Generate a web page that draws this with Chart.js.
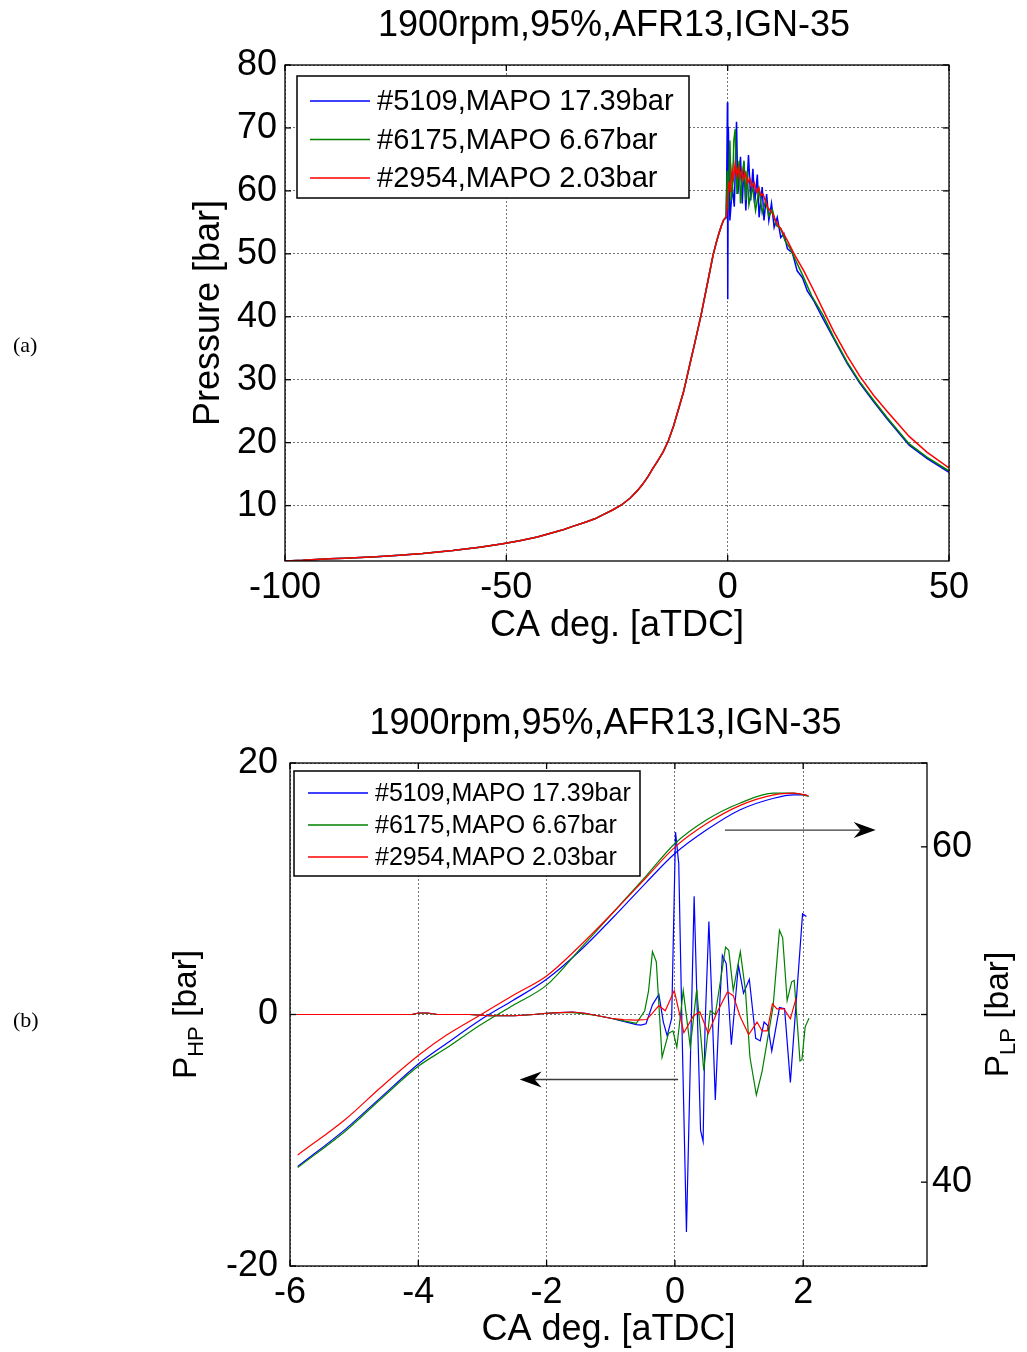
<!DOCTYPE html>
<html>
<head>
<meta charset="utf-8">
<script src="https://cdn.jsdelivr.net/npm/chart.js@4.4.1/dist/chart.umd.min.js"></script>
<style>
   html, body { margin: 0; padding: 0; background: #fff; }
   #page { position: relative; width: 1027px; height: 1352px; background: #fff; overflow: hidden; }
   #chartTop { position: absolute; left: 0; top: 0; }
   #chartBot { position: absolute; left: 0; top: 670px; }
   .tag { position: absolute; left: 13px; font-family: 'Liberation Serif', 'Times New Roman', serif; font-size: 22px; color: #000; }
</style>
</head>
<body>
<div id="page">
   <canvas id="chartTop" width="1027" height="670"></canvas>
   <canvas id="chartBot" width="1027" height="682"></canvas>
   <div class="tag" style="top:332px">(a)</div>
   <div class="tag" style="top:1007px">(b)</div>
</div>
<script>
/* -----------------------------------------------------------------------
   공통 데이터
   ------------------------------------------------------------------------*/
const chartTitle = '1900rpm,95%,AFR13,IGN-35';
const seriesNames = ['#5109,MAPO 17.39bar', '#6175,MAPO 6.67bar', '#2954,MAPO 2.03bar'];
const seriesColors = ['#0000ff', '#008000', '#ff0000'];

/* -----------------------------------------------------------------------
   (a) 압력 선도
   ------------------------------------------------------------------------*/
const topXTicks = [-100, -50, 0, 50];
const topYTicks = [10, 20, 30, 40, 50, 60, 70, 80];

// 압축 구간 (세 사이클 동일)
const caComp = [-100, -96, -90, -86.5, -79.4, -74.2, -68.9, -62.1, -56, -50.8,
   -47, -43, -40, -37, -35, -32, -30, -28, -26, -24,
   -22, -20.5, -19.3, -18, -17, -15.8, -14.6, -13.4, -12.2, -11,
   -10, -9.2, -8.4, -7.6, -6.8, -6, -5, -4.2, -3.3, -2.6,
   -2, -1.4, -0.9];
const pComp = [1.2, 1.3, 1.55, 1.65, 1.87, 2.13, 2.4, 2.87, 3.4, 3.93,
   4.4, 5.0, 5.6, 6.2, 6.7, 7.4, 7.9, 8.6, 9.3, 10.1,
   11.2, 12.3, 13.3, 14.6, 15.8, 17.1, 18.5, 20.3, 22.7, 25.6,
   28, 30.4, 32.9, 35.3, 37.8, 40.3, 43.8, 46.6, 49.8, 51.7,
   53.2, 54.5, 55.4];

// 연소 구간
const caBlueA = [-0.3, -0.05, 0.02, 0.15, 0.5, 1.05, 1.5, 2.0, 2.3, 2.9,
   3.3, 3.7, 4.1, 4.7, 5.2, 5.7, 6.1, 6.7, 7.1, 7.8,
   8.2, 8.8, 9.3, 9.9, 10.5, 11.2, 12, 12.7, 13.5, 14.6,
   15.7, 16.9, 18, 19.5, 21, 24, 27, 29.8, 33, 36,
   41, 45, 50];
const pBlueA = [55.8, 74.1, 42.8, 70.2, 55.3, 60.6, 57.5, 71, 59.5, 65.4,
   58, 64.3, 56.9, 65.7, 58.5, 63.5, 58, 62.6, 55.8, 60.6,
   55.3, 59.5, 55.3, 58, 54.2, 55.8, 52.6, 53.2, 50.8, 50.2,
   47.3, 46.2, 44.1, 42.5, 40.4, 36.5, 32.6, 29.5, 26.5, 23.8,
   19.6, 17.5, 15.3];

const caGreenA = [-0.4, -0.1, 0.1, 0.5, 0.8, 1.1, 1.4, 1.7, 2.1, 2.6,
   2.9, 3.3, 3.7, 4.1, 4.4, 4.8, 5.6, 6.3, 7.1, 7.8,
   8.6, 9.3, 10.1, 11, 12, 13, 14, 15, 17, 19,
   21.5, 24, 27, 29.8, 33, 36, 41, 45, 50];
const pGreenA = [55.7, 63.2, 57, 68, 58.5, 60.5, 68, 69.8, 59.5, 64.8,
   58, 62.5, 64.8, 58.5, 63.2, 57.8, 60.6, 56.9, 60.2, 56.5,
   58.5, 56, 57, 54.5, 54, 52, 51, 49.5, 46.5, 43.3,
   40.3, 36.7, 32.8, 29.7, 26.7, 24, 19.8, 17.7, 15.5];

const caRedA = [-0.3, 0.3, 0.6, 1.0, 1.3, 1.7, 2.0, 2.4, 2.8, 3.2,
   3.6, 4.0, 4.5, 5.0, 5.5, 6.0, 6.5, 7.0, 7.5, 8.0,
   9.0, 10, 11.2, 12, 13.5, 15, 17.2, 19.5, 21.7, 24,
   27, 29.8, 33, 36, 41, 45, 50];
const pRedA = [56.0, 61.5, 59.8, 63.5, 62, 64.2, 62.5, 63.8, 62, 63.4,
   61.8, 62.8, 61.2, 62, 60.6, 61.3, 59.8, 60.5, 59.3, 59.5,
   57.4, 56.6, 54.7, 54, 52.1, 50, 47.3, 44.1, 40.9, 37.6,
   33.8, 30.6, 27.5, 25, 21, 18.5, 16];

/* -----------------------------------------------------------------------
   (b) 고역/저역 필터 압력
   ------------------------------------------------------------------------*/
const botXTicks = [-6, -4, -2, 0, 2];
const botHPTicks = [-20, 0, 20];
const botLPTicks = [40, 60];

const caBlueHP = [-5.9, -4.1, -4.0, -3.85, -3.7, -3.2, -2.9, -2.5, -2.2, -2.0,
   -1.8, -1.6, -1.4, -1.2, -1.0, -0.8, -0.6, -0.53, -0.45, -0.35,
   -0.25, -0.18, -0.12, -0.05, 0.01, 0.06, 0.11, 0.18, 0.30, 0.34,
   0.40, 0.44, 0.47, 0.53, 0.57, 0.63, 0.68, 0.74, 0.80, 0.88,
   0.99, 1.07, 1.16, 1.26, 1.33, 1.39, 1.45, 1.51, 1.63, 1.71,
   1.80, 1.99, 2.05];
const pBlueHP = [0, 0, 0.12, 0.12, 0, 0, -0.1, -0.1, 0, 0.1,
   0.15, 0.2, 0.1, -0.1, -0.3, -0.55, -0.8, -0.85, -0.74, 0.77,
   1.6, -0.6, -1.7, -0.3, 14.5, 12.0, -0.9, -17.3, 9.4, 1.9,
   -9.2, -10.1, -0.9, 7.4, 1.9, -6.8, -0.9, 4.7, 4.05, -2.4,
   3.9, 1.7, 2.8, -1.9, -2.1, -0.6, -0.9, -2.9, 0.55, 0.45,
   -5.4, 8.0, 7.8];

const caGreenHP = [-5.9, -4.1, -4.0, -3.85, -3.7, -3.2, -2.9, -2.5, -2.2, -2.0,
   -1.8, -1.6, -1.4, -1.2, -1.0, -0.8, -0.6, -0.47, -0.41, -0.35,
   -0.29, -0.2, -0.1, -0.03, 0.03, 0.13, 0.24, 0.34, 0.45, 0.55,
   0.63, 0.79, 0.84, 0.91, 1.02, 1.1, 1.17, 1.27, 1.36, 1.44,
   1.53, 1.63, 1.68, 1.75, 1.82, 1.86, 1.95, 1.98, 2.03, 2.09];
const pGreenHP = [0, 0, 0.1, 0.1, 0, 0, -0.1, -0.1, 0, 0.1,
   0.15, 0.15, 0.05, -0.1, -0.3, -0.5, -0.7, 0.3, 1.9, 5.0,
   4.2, -3.4, -1.5, -1.3, -2.6, 1.9, -2.6, 2.0, -4.45, 0.3,
   0, 5.35, 5.1, 1.9, 5.0, 1.9, -3.4, -6.4, -4.5, -2.1,
   0.6, 6.7, 6.1, 1.1, 2.6, 2.7, -3.7, -3.6, -1.0, -0.3];

const caRedHP = [-5.9, -4.1, -4.0, -3.85, -3.7, -3.2, -2.9, -2.5, -2.2, -2.0,
   -1.8, -1.6, -1.4, -1.2, -1.0, -0.8, -0.6, -0.44, -0.36, -0.25,
   -0.15, -0.01, 0.14, 0.29, 0.39, 0.52, 0.65, 0.82, 0.91, 1.02,
   1.15, 1.28, 1.36, 1.44, 1.52, 1.59, 1.7, 1.8, 1.89];
const pRedHP = [0, 0, 0.12, 0.12, 0, 0, -0.1, -0.1, 0, 0.1,
   0.15, 0.2, 0.1, -0.1, -0.3, -0.4, -0.45, -0.4, 0.05, 0.7,
   0.3, 1.9, -1.45, -0.1, 0.2, -1.5, 0.1, 1.8, 1.5, -0.2,
   -1.6, -0.6, -1.3, -1.3, 0.85, 0.45, 0.45, -0.35, 1.3];

const caBlueLP = [-5.88, -5.12, -4.6, -3.99, -3.56, -3.04, -2.52, -2.0, -1.48, -0.96, -0.44, 0, 0.49, 1.01, 1.54, 1.85, 2.05];
const pBlueLP = [40.93, 43.21, 45.0, 47.08, 48.27, 49.66, 50.85, 52.1, 53.8, 55.8, 57.9, 59.6, 61.0, 62.2, 62.9, 63.1, 63.1];
const caGreenLP = [-5.88, -5.12, -4.6, -3.99, -3.56, -3.04, -2.52, -2.0, -1.48, -0.96, -0.44, 0, 0.49, 1.01, 1.54, 1.85, 2.09];
const pGreenLP = [40.87, 43.1, 44.9, 46.94, 48.0, 49.36, 50.55, 51.75, 53.9, 56.1, 58.3, 60.2, 61.6, 62.6, 63.2, 63.2, 63.0];
const caRedLP = [-5.88, -5.12, -4.6, -3.99, -3.56, -3.04, -2.52, -2.0, -1.48, -0.96, -0.44, 0, 0.49, 1.01, 1.54, 1.85, 2.08];
const pRedLP = [41.62, 43.8, 45.6, 47.58, 48.77, 49.96, 51.15, 52.3, 54.1, 56.1, 58.2, 59.98, 61.37, 62.46, 63.1, 63.2, 63.05];

// 화살표 (축 값 기준)
const arrowLP = {ca: [0.78, 3.13], p: 61.0};
const arrowHP = {ca: [0.05, -2.42], p: -5.17};

/* -----------------------------------------------------------------------
   helpers
   ------------------------------------------------------------------------*/
const FONT = "'Liberation Sans', Arial, Helvetica, sans-serif";
Chart.defaults.font.family = FONT;
Chart.defaults.font.size = 36;
Chart.defaults.color = '#000';

function toXY(xs, ys) {
   return xs.map(function(x, i) {
      return {x: x, y: ys[i]};
   });
}

function fixedTicks(list) {
   return function(scale) {
      scale.ticks = list.map(function(v) { return {value: v}; });
   };
}

function lineSet(idx, xs, ys, axisId, width, smooth) {
   return {
      label: seriesNames[idx],
      data: toXY(xs, ys),
      yAxisID: axisId,
      borderColor: seriesColors[idx],
      backgroundColor: seriesColors[idx],
      borderWidth: width,
      pointRadius: 0,
      tension: 0,
      cubicInterpolationMode: smooth ? 'monotone' : 'default',
      order: 3 - idx,
   };
}

const gridStyle = {color: 'rgba(0,0,0,0.55)', lineWidth: 1, drawTicks: false};
const borderStyle = {display: false, dash: [2, 2]};

/* -----------------------------------------------------------------------
   MATLAB 스타일 박스, 범례, 제목, 화살표
   ------------------------------------------------------------------------*/
const matlabBox = {
   id: 'matlabBox',
   afterDatasetsDraw: function(chart, args, opts) {
      const ctx = chart.ctx;
      const area = chart.chartArea;
      ctx.save();

      // arrows
      (opts.arrows || []).forEach(function(ar) {
         const sx = chart.scales.x;
         const sy = chart.scales[ar.axis];
         const x0 = sx.getPixelForValue(ar.ca[0]);
         const x1 = sx.getPixelForValue(ar.ca[1]);
         const y = sy.getPixelForValue(ar.p);
         const dir = x1 > x0 ? 1 : -1;
         ctx.strokeStyle = '#3a3a3a';
         ctx.lineWidth = 1.3;
         ctx.beginPath();
         ctx.moveTo(x0, y);
         ctx.lineTo(x1 - dir * 12, y);
         ctx.stroke();
         ctx.fillStyle = '#000';
         ctx.beginPath();
         ctx.moveTo(x1, y);
         ctx.lineTo(x1 - dir * 22, y - 8);
         ctx.lineTo(x1 - dir * 15, y);
         ctx.lineTo(x1 - dir * 22, y + 8);
         ctx.closePath();
         ctx.fill();
      });

      // axes box
      ctx.strokeStyle = '#000';
      ctx.lineWidth = 1.3;
      ctx.strokeRect(area.left, area.top, area.right - area.left, area.bottom - area.top);

      // inward ticks
      (opts.tickSides || []).forEach(function(t) {
         const sc = chart.scales[t.axis];
         sc.ticks.forEach(function(tk) {
            const p = sc.getPixelForValue(tk.value);
            t.sides.forEach(function(side) {
               ctx.beginPath();
               if (side === 'bottom') { ctx.moveTo(p, area.bottom); ctx.lineTo(p, area.bottom - 6); }
               if (side === 'top') { ctx.moveTo(p, area.top); ctx.lineTo(p, area.top + 6); }
               if (side === 'left') { ctx.moveTo(area.left, p); ctx.lineTo(area.left + 6, p); }
               if (side === 'right') { ctx.moveTo(area.right, p); ctx.lineTo(area.right - 6, p); }
               ctx.stroke();
            });
         });
      });

      // legend
      const lg = opts.legend;
      if (lg) {
         const bx = area.left + lg.dx;
         const by = area.top + lg.dy;
         ctx.fillStyle = '#fff';
         ctx.fillRect(bx, by, lg.w, lg.h);
         ctx.strokeStyle = '#000';
         ctx.lineWidth = 1.5;
         ctx.strokeRect(bx, by, lg.w, lg.h);
         ctx.font = lg.size + 'px ' + FONT;
         ctx.textAlign = 'left';
         ctx.textBaseline = 'middle';
         seriesNames.forEach(function(name, i) {
            const y = by + lg.row0 + i * lg.gap;
            ctx.strokeStyle = seriesColors[i];
            ctx.lineWidth = 1.3;
            ctx.beginPath();
            ctx.moveTo(bx + lg.line[0], y);
            ctx.lineTo(bx + lg.line[1], y);
            ctx.stroke();
            ctx.fillStyle = '#000';
            ctx.fillText(name, bx + lg.textX, y + 1);
         });
      }
      ctx.restore();
   },
   afterDraw: function(chart, args, opts) {
      const ctx = chart.ctx;
      const area = chart.chartArea;
      ctx.save();
      ctx.fillStyle = '#000';
      ctx.font = '36px ' + FONT;
      ctx.textAlign = 'center';
      ctx.textBaseline = 'middle';
      ctx.fillText(opts.title, (area.left + area.right) / 2 - 3, area.top - 39);

      // 아래첨자 축 제목
      (opts.sideLabels || []).forEach(function(lb) {
         const cy = (area.top + area.bottom) / 2;
         ctx.save();
         ctx.translate(lb.x, cy);
         ctx.rotate(-Math.PI / 2);
         ctx.textAlign = 'left';
         ctx.textBaseline = 'alphabetic';
         const big = '33.5px ' + FONT;
         const small = '22px ' + FONT;
         ctx.font = big;
         const w1 = ctx.measureText(lb.main).width;
         const w3 = ctx.measureText(lb.rest).width;
         ctx.font = small;
         const w2 = ctx.measureText(lb.sub).width;
         let x = -(w1 + w2 + w3) / 2;
         ctx.font = big;
         ctx.fillText(lb.main, x, 12);
         x += w1;
         ctx.font = small;
         ctx.fillText(lb.sub, x, 19);
         x += w2;
         ctx.font = big;
         ctx.fillText(lb.rest, x, 12);
         ctx.restore();
      });
      ctx.restore();
   }
};

/* -----------------------------------------------------------------------
   (a) chart
   ------------------------------------------------------------------------*/
new Chart(document.getElementById('chartTop'), {
   type: 'line',
   data: {
      datasets: [
         lineSet(0, caComp.concat(caBlueA), pComp.concat(pBlueA), 'y', 1.5, false),
         lineSet(1, caComp.concat(caGreenA), pComp.concat(pGreenA), 'y', 1.5, false),
         lineSet(2, caComp.concat(caRedA), pComp.concat(pRedA), 'y', 1.5, false),
      ]
   },
   options: {
      responsive: false,
      animation: false,
      layout: {padding: {top: 65, right: 78, bottom: 9, left: 187}},
      scales: {
         x: {
            type: 'linear',
            min: -100,
            max: 50,
            afterBuildTicks: fixedTicks(topXTicks),
            afterFit: function(scale) { scale.height = 100; },
            grid: gridStyle,
            border: borderStyle,
            ticks: {padding: 5, maxRotation: 0, autoSkip: false},
            title: {display: true, text: 'CA deg. [aTDC]', padding: {top: 0, bottom: 13}},
         },
         y: {
            type: 'linear',
            min: 1.2,
            max: 80,
            afterBuildTicks: fixedTicks(topYTicks),
            afterFit: function(scale) { scale.width = 98; },
            grid: gridStyle,
            border: borderStyle,
            ticks: {padding: 8},
            title: {display: true, text: 'Pressure [bar]', padding: {top: 0, bottom: 0}},
         }
      },
      plugins: {
         legend: {display: false},
         tooltip: {enabled: false},
         matlabBox: {
            title: chartTitle,
            tickSides: [
               {axis: 'x', sides: ['bottom', 'top']},
               {axis: 'y', sides: ['left', 'right']},
            ],
            legend: {dx: 12, dy: 11, w: 392, h: 122, row0: 25, gap: 38.5, line: [13, 73], textX: 80, size: 29},
         }
      }
   },
   plugins: [matlabBox]
});

/* -----------------------------------------------------------------------
   (b) chart
   ------------------------------------------------------------------------*/
new Chart(document.getElementById('chartBot'), {
   type: 'line',
   data: {
      datasets: [
         lineSet(0, caBlueHP, pBlueHP, 'y', 1.2, false),
         lineSet(1, caGreenHP, pGreenHP, 'y', 1.2, false),
         lineSet(2, caRedHP, pRedHP, 'y', 1.2, false),
         lineSet(0, caBlueLP, pBlueLP, 'yR', 1.2, true),
         lineSet(1, caGreenLP, pGreenLP, 'yR', 1.2, true),
         lineSet(2, caRedLP, pRedLP, 'yR', 1.2, true),
      ]
   },
   options: {
      responsive: false,
      animation: false,
      layout: {padding: {top: 93, right: 0, bottom: 0, left: 150}},
      scales: {
         x: {
            type: 'linear',
            min: -6,
            max: 3.93,
            afterBuildTicks: fixedTicks(botXTicks),
            afterFit: function(scale) { scale.height = 86; },
            grid: gridStyle,
            border: borderStyle,
            ticks: {padding: 5, maxRotation: 0, autoSkip: false},
            title: {display: true, text: 'CA deg. [aTDC]', padding: {top: 0, bottom: 0}},
         },
         y: {
            type: 'linear',
            position: 'left',
            min: -20,
            max: 20,
            afterBuildTicks: fixedTicks(botHPTicks),
            afterFit: function(scale) { scale.width = 140; },
            grid: gridStyle,
            border: borderStyle,
            ticks: {padding: 12},
         },
         yR: {
            type: 'linear',
            position: 'right',
            min: 35,
            max: 65,
            afterBuildTicks: fixedTicks(botLPTicks),
            afterFit: function(scale) { scale.width = 100; },
            grid: {drawOnChartArea: false, drawTicks: false},
            border: {display: false},
            ticks: {padding: 5},
         }
      },
      plugins: {
         legend: {display: false},
         tooltip: {enabled: false},
         matlabBox: {
            title: chartTitle,
            arrows: [
               {axis: 'yR', ca: arrowLP.ca, p: arrowLP.p},
               {axis: 'y', ca: arrowHP.ca, p: arrowHP.p},
            ],
            tickSides: [
               {axis: 'x', sides: ['bottom', 'top']},
               {axis: 'y', sides: ['left', 'right']},
               {axis: 'yR', sides: ['right']},
            ],
            legend: {dx: 4, dy: 8, w: 346, h: 105, row0: 22, gap: 32, line: [14, 74], textX: 81, size: 25},
            sideLabels: [
               {x: 184, main: 'P', sub: 'HP', rest: ' [bar]'},
               {x: 996, main: 'P', sub: 'LP', rest: ' [bar]'},
            ],
         }
      }
   },
   plugins: [matlabBox]
});
</script>
</body>
</html>
